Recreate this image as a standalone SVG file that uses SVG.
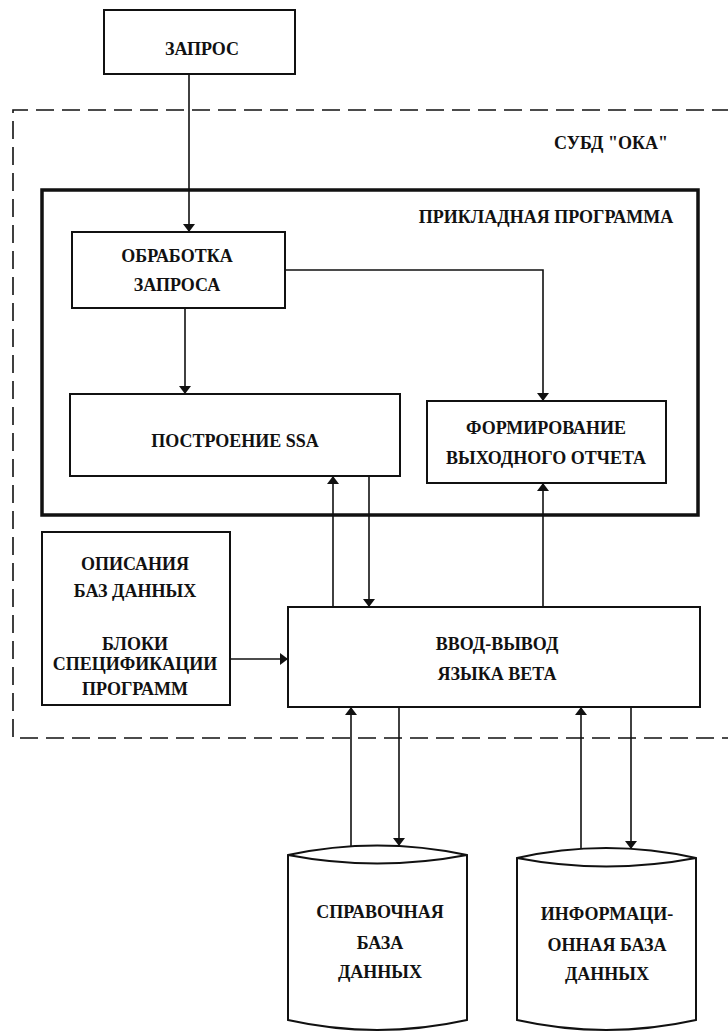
<svg xmlns="http://www.w3.org/2000/svg" width="728" height="1034" viewBox="0 0 728 1034">
<style>
.box{fill:none;stroke:#111;stroke-width:2}
.thick{fill:none;stroke:#111;stroke-width:3.5}
.dash{fill:none;stroke:#111;stroke-width:1.6;stroke-dasharray:18 8}
.c{fill:none;stroke:#111;stroke-width:1.6}
text{font-family:"Liberation Serif","DejaVu Serif",serif;font-weight:bold;font-size:18px;fill:#111;text-anchor:middle}
</style>
<defs>
<marker id="ah" viewBox="0 0 8 14" refX="8" refY="7" markerWidth="8" markerHeight="14" markerUnits="userSpaceOnUse" orient="auto">
<path d="M0,1 L8,7 L0,13 Z" fill="#111"/>
</marker>
</defs>
<rect width="728" height="1034" fill="#fff"/>

<g id="subd">
<path class="dash" d="M730,110 L13,110 L13,738 L730,738"/>
<text x="611" y="149">СУБД "ОКА"</text>
</g>

<g id="prog">
<rect class="thick" x="42" y="190" width="656" height="325"/>
<text x="546" y="223">ПРИКЛАДНАЯ ПРОГРАММА</text>
</g>

<g id="zapros">
<rect class="box" x="104" y="10" width="191" height="64"/>
<text x="202" y="55">ЗАПРОС</text>
</g>

<g id="obrabotka">
<rect class="box" x="72" y="232" width="213" height="76"/>
<text x="177" y="262">ОБРАБОТКА</text>
<text x="177" y="291">ЗАПРОСА</text>
</g>

<g id="postroenie">
<rect class="box" x="70" y="394" width="330" height="82"/>
<text x="235" y="447">ПОСТРОЕНИЕ  SSA</text>
</g>

<g id="formirovanie">
<rect class="box" x="427" y="401" width="239" height="82"/>
<text x="546" y="434">ФОРМИРОВАНИЕ</text>
<text x="546" y="464">ВЫХОДНОГО ОТЧЕТА</text>
</g>

<g id="opisaniya">
<rect class="box" x="42" y="532" width="188" height="173"/>
<text x="135" y="570">ОПИСАНИЯ</text>
<text x="135" y="597">БАЗ ДАННЫХ</text>
<text x="135" y="650">БЛОКИ</text>
<text x="135" y="670">СПЕЦИФИКАЦИИ</text>
<text x="135" y="695">ПРОГРАММ</text>
</g>

<g id="vvod">
<rect class="box" x="288" y="607" width="412" height="100"/>
<text x="497" y="650">ВВОД-ВЫВОД</text>
<text x="497" y="680">ЯЗЫКА ВЕТА</text>
</g>

<g id="spravochnaya">
<path class="box" d="M288,1020 L288,855 Q377,836 467,855 L467,1020 Q377,1040 288,1020 Z M288,855 Q377,872 467,855"/>
<text x="380" y="918">СПРАВОЧНАЯ</text>
<text x="380" y="949">БАЗА</text>
<text x="380" y="978">ДАННЫХ</text>
</g>

<g id="informacionnaya">
<path class="box" d="M517,1020 L517,858 Q606,838 696,858 L696,1020 Q606,1040 517,1020 Z M517,858 Q606,875 696,858"/>
<text x="607" y="920">ИНФОРМАЦИ-</text>
<text x="607" y="951">ОННАЯ БАЗА</text>
<text x="607" y="980">ДАННЫХ</text>
</g>

<g id="connectors">
<line class="c" x1="189" y1="74" x2="189" y2="232" marker-end="url(#ah)"/>
<line class="c" x1="185" y1="308" x2="185" y2="394" marker-end="url(#ah)"/>
<polyline class="c" points="285,270 543,270 543,401" marker-end="url(#ah)"/>
<line class="c" x1="333" y1="607" x2="333" y2="476" marker-end="url(#ah)"/>
<line class="c" x1="369" y1="476" x2="369" y2="607" marker-end="url(#ah)"/>
<line class="c" x1="543" y1="607" x2="543" y2="483" marker-end="url(#ah)"/>
<line class="c" x1="230" y1="659" x2="288" y2="659" marker-end="url(#ah)"/>
<line class="c" x1="351" y1="846" x2="351" y2="707" marker-end="url(#ah)"/>
<line class="c" x1="399" y1="707" x2="399" y2="846" marker-end="url(#ah)"/>
<line class="c" x1="581" y1="848" x2="581" y2="707" marker-end="url(#ah)"/>
<line class="c" x1="631" y1="707" x2="631" y2="849" marker-end="url(#ah)"/>
</g>
</svg>
